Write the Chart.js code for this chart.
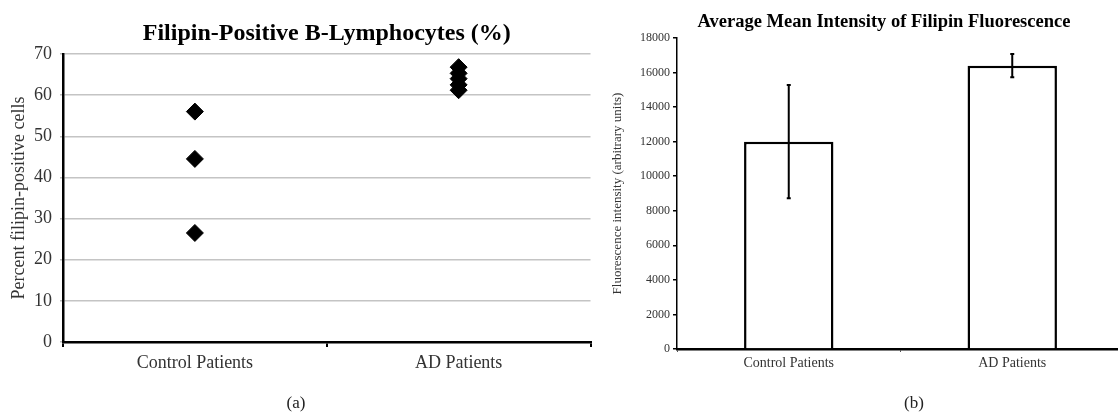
<!DOCTYPE html>
<html>
<head>
<meta charset="utf-8">
<title>Filipin staining</title>
<script src="https://cdn.jsdelivr.net/npm/chart.js@4.4.1/dist/chart.umd.min.js"></script>
<style>
  html, body { margin: 0; padding: 0; background: #fff; overflow: hidden; }
  body { position: relative; width: 1118px; height: 413px; font-family: "Liberation Serif", "Times New Roman", serif; }
  #chartA { position: absolute; left: 0; top: 0; }
  #chartB { position: absolute; left: 600px; top: 0; }
  .caption { position: absolute; top: 393px; font-size: 17px; line-height: 20px; color: #222; transform: translateX(-50%); }
</style>
</head>
<body>
<canvas id="chartA" width="600" height="413"></canvas>
<canvas id="chartB" width="568" height="413"></canvas>
<div class="caption" style="left: 296px;">(a)</div>
<div class="caption" style="left: 914px;">(b)</div>

<script>
const SERIF = '"Liberation Serif", "Times New Roman", serif';

// groups shared by both panels
const patientGroups = ["Control Patients", "AD Patients"];

// (a) percent of filipin-positive B cells, one value per patient
const controlPercent = [56, 44.5, 26.5];
const adPercent = [66.8, 65.3, 64.0, 62.5, 61.2];

// (b) mean filipin intensity with error
const intensityMeans = [12000, 16400];
const intensityErrors = [3280, 670];

const pointsA = [
  ...controlPercent.map((v) => ({ x: patientGroups[0], y: v })),
  ...adPercent.map((v) => ({ x: patientGroups[1], y: v })),
];

new Chart(document.getElementById("chartA"), {
  type: "scatter",
  data: {
    datasets: [
      {
        data: pointsA,
        pointStyle: "rectRot",
        pointRadius: 8.5,
        pointHoverRadius: 8.5,
        backgroundColor: "#000",
        borderColor: "#000",
        borderWidth: 1,
      },
    ],
  },
  options: {
    responsive: false,
    animation: false,
    events: [],
    layout: { padding: { left: 0, right: 8, top: 0, bottom: 0 } },
    plugins: {
      legend: { display: false },
      tooltip: { enabled: false },
      title: {
        display: true,
        text: "Filipin-Positive B-Lymphocytes (%)",
        fullSize: false,
        color: "#000",
        font: { family: SERIF, size: 24, weight: "bold" },
        padding: { top: 19.5, bottom: 5.7 },
      },
    },
    scales: {
      x: {
        type: "category",
        labels: patientGroups,
        offset: true,
        grid: { offset: true, drawOnChartArea: false, tickLength: 5, tickColor: "#000", lineWidth: 2 },
        border: { color: "#000", width: 2.5 },
        ticks: { color: "#333", font: { family: SERIF, size: 18 }, padding: 5 },
        afterFit: (s) => { s.height = 413 - 342; },
      },
      y: {
        min: 0,
        max: 70,
        ticks: { stepSize: 10, color: "#333", font: { family: SERIF, size: 18 }, padding: 8 },
        grid: { color: "#c4c4c4", lineWidth: 1.5, tickLength: 3, tickColor: "#bbb" },
        border: { color: "#000", width: 2.5 },
        title: {
          display: true,
          text: "Percent filipin-positive cells",
          color: "#333",
          font: { family: SERIF, size: 18 },
          padding: { top: 8, bottom: 0 },
        },
        afterFit: (s) => { s.width = 63; },
      },
    },
  },
});

// vertical error bars with small caps, drawn over the bars
const errorBars = {
  id: "errorBars",
  afterDatasetsDraw(chart) {
    const { ctx, scales: { y } } = chart;
    const meta = chart.getDatasetMeta(0);
    ctx.save();
    ctx.strokeStyle = "#000";
    ctx.lineWidth = 2;
    meta.data.forEach((bar, i) => {
      const top = y.getPixelForValue(intensityMeans[i] + intensityErrors[i]);
      const bottom = y.getPixelForValue(intensityMeans[i] - intensityErrors[i]);
      ctx.beginPath();
      ctx.moveTo(bar.x, top);
      ctx.lineTo(bar.x, bottom);
      ctx.moveTo(bar.x - 2, top);
      ctx.lineTo(bar.x + 2, top);
      ctx.moveTo(bar.x - 2, bottom);
      ctx.lineTo(bar.x + 2, bottom);
      ctx.stroke();
    });
    ctx.restore();
  },
};

new Chart(document.getElementById("chartB"), {
  type: "bar",
  data: {
    labels: patientGroups,
    datasets: [
      {
        data: intensityMeans,
        backgroundColor: "#fff",
        borderColor: "#000",
        borderWidth: 2.5,
        borderSkipped: "bottom",
        barPercentage: 0.4,
        categoryPercentage: 1,
      },
    ],
  },
  options: {
    responsive: false,
    animation: false,
    events: [],
    plugins: {
      legend: { display: false },
      tooltip: { enabled: false },
      title: {
        display: true,
        text: "Average Mean Intensity of Filipin Fluorescence",
        color: "#000",
        font: { family: SERIF, size: 18.5, weight: "bold" },
        padding: { top: 10.9, bottom: 4.9 },
      },
    },
    scales: {
      x: {
        grid: { offset: true, drawOnChartArea: false, tickLength: 3, tickColor: "#555" },
        border: { color: "#000", width: 2.5 },
        ticks: { color: "#333", font: { family: SERIF, size: 14 }, padding: 3 },
        afterFit: (s) => { s.height = 413 - 349; },
      },
      y: {
        min: 0,
        max: 18000,
        ticks: {
          stepSize: 2000,
          color: "#333",
          font: { family: SERIF, size: 12 },
          padding: 3,
          callback: (v) => String(v),
        },
        grid: { drawOnChartArea: false, tickLength: 4, tickColor: "#000", lineWidth: 1.5 },
        border: { color: "#000", width: 1.5 },
        title: {
          display: true,
          text: "Fluorescence intensity (arbitrary units)",
          color: "#333",
          font: { family: SERIF, size: 13 },
          padding: { top: 10.2, bottom: 0 },
        },
        afterFit: (s) => { s.width = 77; },
      },
      // empty box on the right so the plot ends where the page is cut
      pad: {
        position: "right",
        grid: { display: false },
        ticks: { display: false },
        border: { display: false },
        afterFit: (s) => { s.width = 44; },
      },
    },
  },
  plugins: [errorBars],
});
</script>
</body>
</html>
